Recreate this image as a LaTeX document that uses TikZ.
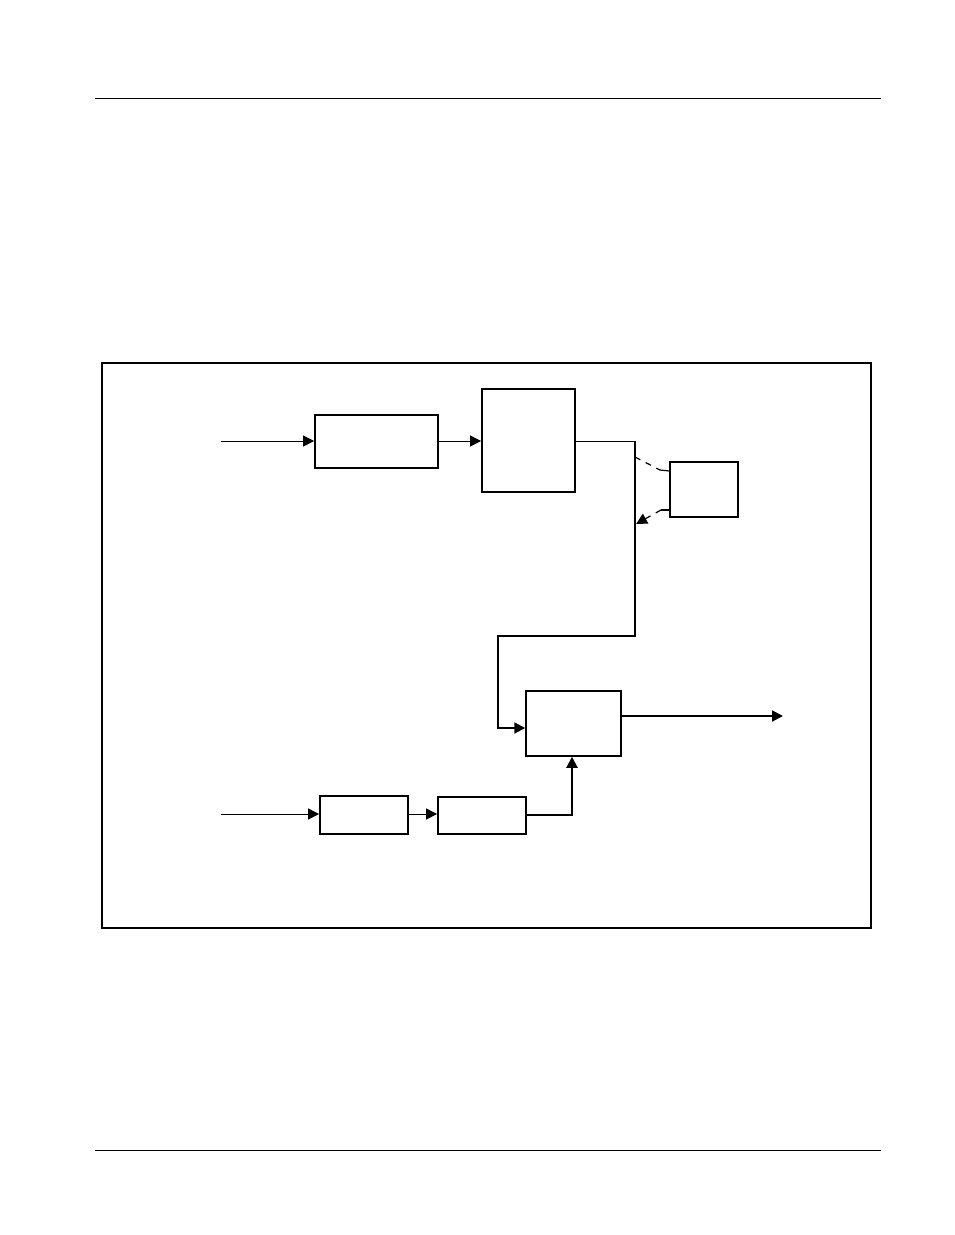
\documentclass[tikz,border=0pt]{standalone}
\usetikzlibrary{arrows.meta}

\begin{document}
\begin{tikzpicture}[x=1pt, y=-1pt]
\tikzset{bloc/.style={draw, line width=1.8pt, inner sep=0pt},
  fleche/.style={-{Triangle[length=11pt,width=11pt]}}}
\useasboundingbox (0, 0) rectangle (954, 1235);
\draw[line width=1pt] (95, 98.5) -- (881, 98.5);
\draw[line width=1pt] (95, 1150) -- (881, 1150);
\draw[line width=1.5pt] (102, 363) rectangle (871, 928);
\node[bloc, minimum width=123pt, minimum height=53pt] (A) at (376.5, 441.5) {};
\node[bloc, minimum width=93pt, minimum height=103pt] (B) at (528.5, 440.5) {};
\node[bloc, line width=1.2pt, minimum width=68pt, minimum height=55pt] (C) at (704, 489.5) {};
\node[bloc, line width=1.5pt, minimum width=95pt, minimum height=65pt] (D) at (573.5, 723.5) {};
\node[bloc, minimum width=88pt, minimum height=38pt] (E) at (364, 815) {};
\node[bloc, minimum width=88pt, minimum height=37pt] (F) at (482, 815.5) {};
\coordinate (E1) at (221, 441);
\coordinate (E2) at (221, 814);
\coordinate (S) at (783, 716);
\coordinate (T1) at (635, 457);
\coordinate (T2) at (636, 524);
\draw[fleche, line width=1pt] (E1) -- (A.west |- E1);
\draw[fleche, line width=1pt] (A.east |- E1) -- (B.west |- E1);
\draw[line width=1pt] (B.east |- E1) -- (635, 441);
\draw[fleche, line width=2pt] (635, 441) -- (635, 636) -- (498, 636) -- (498, 728)
  -- (D.west |- 0, 728);
\draw[line width=1.2pt, dash pattern=on 6pt off 6pt] (T1) -- (660, 470);
\draw[line width=1.2pt] (660, 470) -- (C.west |- 0, 471);
\draw[line width=1.2pt] (C.west |- 0, 510) -- (661, 510);
\draw[fleche, line width=1.2pt, dash pattern=on 6pt off 6pt] (661, 510) -- (T2);
\draw[fleche, line width=2pt] (D.east |- S) -- (S);
\draw[fleche, line width=1pt] (E2) -- (E.west |- E2);
\draw[fleche, line width=1pt] (E.east |- E2) -- (F.west |- E2);
\draw[fleche, line width=2pt] (F.east |- 0, 815) -- (572, 815) -- (D.south -| 572, 0);
\end{tikzpicture}
\end{document}
